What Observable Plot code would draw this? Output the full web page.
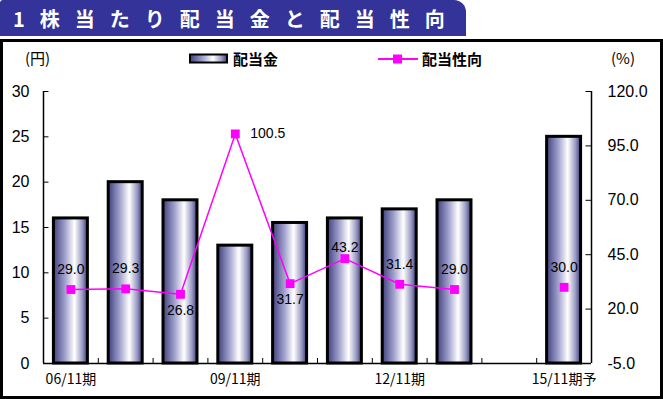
<!DOCTYPE html>
<html>
<head>
<meta charset="utf-8">
<script src="https://cdn.jsdelivr.net/npm/d3@7"></script>
<script src="https://cdn.jsdelivr.net/npm/@observablehq/plot@0.6"></script>
<style>
  html, body { margin: 0; padding: 0; background: #fff; }
  body { width: 663px; height: 399px; position: relative; overflow: hidden; }
  #banner { position: absolute; left: 0; top: 0; width: 466px; height: 36px; background: #333399;
    border-top-right-radius: 12px; border-top-left-radius: 3px; color: #fff; box-sizing: border-box;
    padding-left: 13px; font: bold 20px "Noto Sans CJK JP", sans-serif; letter-spacing: 15px; line-height: 38px; white-space: nowrap; }
  #box { position: absolute; left: 0; top: 39px; width: 663px; height: 360px; border: 3px solid #000; box-sizing: border-box; }
  .lg { position: absolute; font: bold 15px "Noto Sans CJK JP", sans-serif; color: #000; line-height: 18px; white-space: nowrap; }
  .unit { position: absolute; font: 15px "Noto Sans CJK JP", sans-serif; color: #000; line-height: 18px; }
  #chart { position: absolute; left: 0; top: 75px; }
</style>
</head>
<body>
<div id="banner">1株当たり配当金と配当性向</div>
<div id="box"></div>
<div class="unit" style="left:25px; top:49px;">(円)</div>
<div class="unit" style="left:611px; top:49px;">(%)</div>
<svg width="40" height="12" style="position:absolute; left:189px; top:53px;">
  <defs>
    <linearGradient id="lgGrad" x1="0" x2="1" y1="0" y2="0">
      <stop offset="0" stop-color="#40407f"/>
      <stop offset="0.35" stop-color="#a3a3cf"/>
      <stop offset="0.62" stop-color="#ffffff"/>
      <stop offset="0.85" stop-color="#9a9ac4"/>
      <stop offset="1" stop-color="#3c3c78"/>
    </linearGradient>
  </defs>
  <rect x="1" y="1.5" width="37" height="8" fill="url(#lgGrad)" stroke="#000" stroke-width="2"/>
</svg>
<div class="lg" style="left:233px; top:50px;">配当金</div>
<svg width="42" height="14" style="position:absolute; left:378px; top:52px;">
  <line x1="0" x2="40" y1="7" y2="7" stroke="#ff00ff" stroke-width="2"/>
  <rect x="15" y="2.5" width="9" height="9" fill="#ff00ff"/>
</svg>
<div class="lg" style="left:422px; top:50px;">配当性向</div>
<div id="chart"></div>
<script>
const categories = ["06/11期","07/11期","08/11期","09/11期","10/11期","11/11期","12/11期","13/11期","14/11期","15/11期予"];
const dividend = [16, 20, 18, 13, 15.5, 16, 17, 18, null, 25];
const payout = [29.0, 29.3, 26.8, 100.5, 31.7, 43.2, 31.4, 29.0, null, 30.0];
const leftTicks = [0, 5, 10, 15, 20, 25, 30];
const rightTicks = [-5, 20, 45, 70, 95, 120];
const xLabelIdx = [0, 3, 6, 9];

const R0 = -5, R1 = 120, L1 = 30;
const toY = v => (v - R0) / (R1 - R0) * L1;
const fromY = y => y / L1 * (R1 - R0) + R0;

const data = categories.map((c, i) => ({i, c, div: dividend[i], pay: payout[i]}));
const bars = data.filter(d => d.div != null);
const pts = data.filter(d => d.pay != null);

const above = new Set([0, 1, 6, 7, 9]);
const below = new Set([2, 4]);
const right = new Set([3]);
const near = new Set([5]);

const numFont = "Liberation Sans, Arial, sans-serif";

const plot = Plot.plot({
  width: 663,
  height: 320,
  marginTop: 16,
  marginBottom: 32,
  marginLeft: 43,
  marginRight: 72,
  style: {fontFamily: numFont, background: "transparent", overflow: "visible"},
  x: {domain: [0, categories.length], axis: null},
  y: {domain: [0, L1], axis: null},
  marks: [
    Plot.rectY(bars, {x1: d => d.i + 0.19, x2: d => d.i + 0.81, y1: 0, y2: "div", fill: "url(#barGrad)", stroke: "#000", strokeWidth: 3}),
    Plot.ruleX([0, categories.length], {y1: 0, y2: L1, stroke: "#000", strokeWidth: 1.5}),
    Plot.ruleY([0], {x1: 0, x2: categories.length, stroke: "#000", strokeWidth: 1.5}),
    Plot.ruleY(leftTicks, {y: d => d, x1: 0, x2: 0.1, stroke: "#000"}),
    Plot.ruleY(rightTicks, {y: d => toY(d), x1: categories.length - 0.1, x2: categories.length, stroke: "#000"}),
    Plot.ruleX(d3.range(1, categories.length), {x: d => d, y1: 0, y2: 0.55, stroke: "#000"}),
    Plot.axisY({ticks: leftTicks, label: null, tickSize: 0, tickPadding: 14, fontSize: 16, tickFormat: d => String(d), fontFamily: numFont}),
    Plot.axisY({anchor: "right", label: null, ticks: rightTicks.map(toY), tickSize: 0, tickPadding: 16, fontSize: 16, tickFormat: d => fromY(d).toFixed(1), fontFamily: numFont}),
    Plot.axisX({ticks: xLabelIdx.map(i => i + 0.5), label: null, tickSize: 0, tickPadding: 11, fontSize: 14, tickFormat: d => categories[Math.floor(d)], fontFamily: "Noto Sans CJK JP, sans-serif"}),
    Plot.line(data, {x: d => d.i + 0.5, y: d => d.pay == null ? NaN : toY(d.pay), stroke: "#ff00ff", strokeWidth: 1.5}),
    Plot.dot(pts, {x: d => d.i + 0.5, y: d => toY(d.pay), symbol: "square", r: 5, fill: "#ff00ff", stroke: "none"}),
    Plot.text(pts.filter(d => above.has(d.i)), {x: d => d.i + 0.5, y: d => toY(d.pay), text: d => d.pay.toFixed(1), dy: -20, fontSize: 14, fill: "#000"}),
    Plot.text(pts.filter(d => below.has(d.i)), {x: d => d.i + 0.5, y: d => toY(d.pay), text: d => d.pay.toFixed(1), dy: 16, fontSize: 14, fill: "#000"}),
    Plot.text(pts.filter(d => near.has(d.i)), {x: d => d.i + 0.5, y: d => toY(d.pay), text: d => d.pay.toFixed(1), dy: -11, fontSize: 14, fill: "#000"}),
    Plot.text(pts.filter(d => right.has(d.i)), {x: d => d.i + 0.5, y: d => toY(d.pay), text: d => d.pay.toFixed(1), dx: 15, textAnchor: "start", fontSize: 14, fill: "#000"})
  ]
});

const defs = d3.select(plot).insert("defs", ":first-child");
const g = defs.append("linearGradient").attr("id", "barGrad").attr("x1", 0).attr("x2", 1).attr("y1", 0).attr("y2", 0);
[[0, "#40407f"], [0.35, "#a3a3cf"], [0.62, "#ffffff"], [0.85, "#9a9ac4"], [1, "#3c3c78"]].forEach(([o, c]) =>
  g.append("stop").attr("offset", o).attr("stop-color", c));

document.getElementById("chart").appendChild(plot);
</script>
</body>
</html>
